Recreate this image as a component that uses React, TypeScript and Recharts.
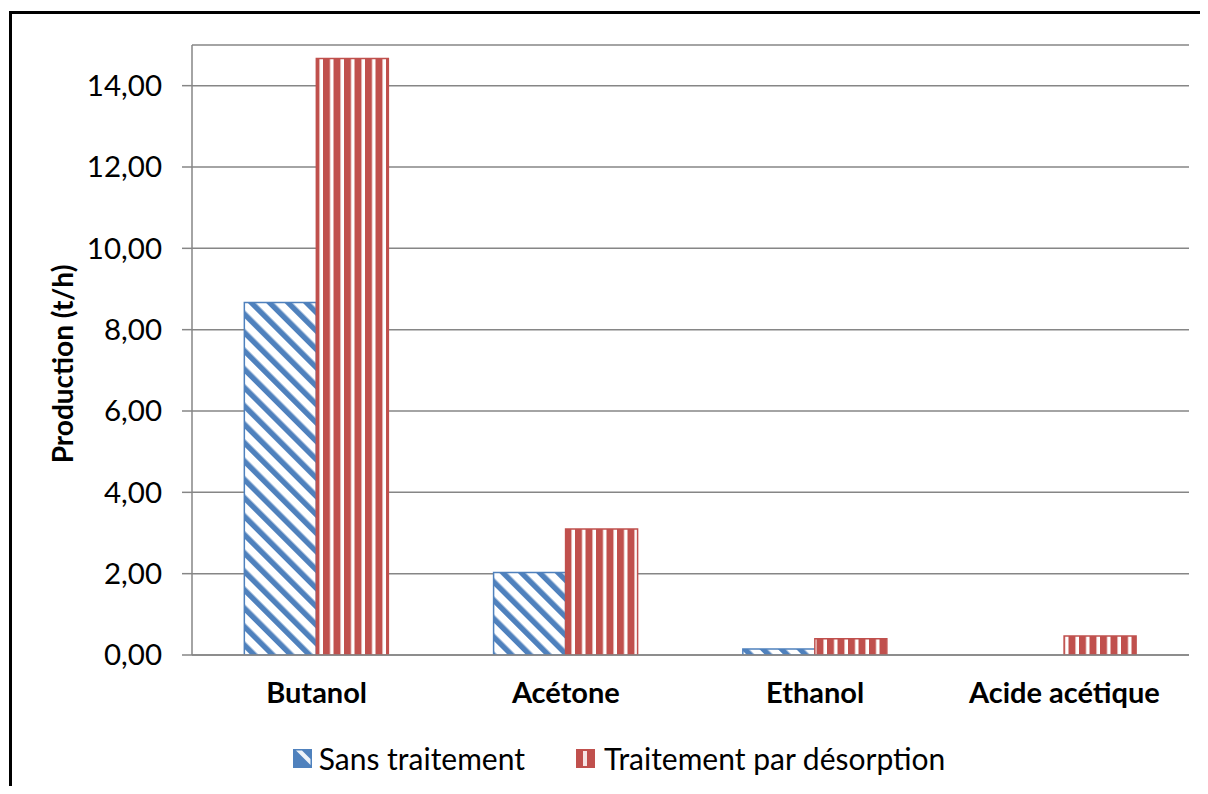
import {
  BarChart,
  Bar,
  XAxis,
  YAxis,
  CartesianGrid,
  Legend,
  Label,
} from 'recharts';

const categories = ['Butanol', 'Acétone', 'Ethanol', 'Acide acétique'];
const sansTraitement = [8.67, 2.03, 0.15, 0];
const desorption = [14.67, 3.1, 0.4, 0.47];
const yTicks = [0, 2, 4, 6, 8, 10, 12, 14];
const boundaryTicks = [0, 1, 2, 3, 4];

const seriesNames = ['Sans traitement', 'Traitement par désorption'];

const data = categories.map((name, i) => ({
  name,
  sans: sansTraitement[i],
  desorption: desorption[i],
}));

const BLUE = '#4F81BD';
const RED = '#C0504D';
const GRID = '#868686';
const FONT = 'Lato, "Open Sans", sans-serif';

const fmt = (v: number) => v.toFixed(2).replace('.', ',');

const LegendContent = () => (
  <div
    style={{
      display: 'flex',
      justifyContent: 'center',
      alignItems: 'center',
      height: 40,
      fontFamily: FONT,
      fontSize: 30,
      color: '#000',
      paddingLeft: 22,
    }}
  >
    <div style={{ display: 'flex', alignItems: 'center', marginRight: 51 }}>
      <svg width={19} height={19} style={{ marginRight: 7 }}>
        <rect x={0.75} y={0.75} width={17.5} height={17.5} fill={BLUE} stroke={BLUE} strokeWidth={1.5} />
        <polygon points="3,1.5 9,1.5 17.5,10 17.5,16" fill="#fff" opacity={0.9} />
      </svg>
      <span>{seriesNames[0]}</span>
    </div>
    <div style={{ display: 'flex', alignItems: 'center' }}>
      <svg width={19} height={19} style={{ marginRight: 9 }}>
        <rect x={0.75} y={0.75} width={17.5} height={17.5} fill={RED} stroke={RED} strokeWidth={1.5} />
        <rect x={7} y={2} width={4} height={15} fill="#fff" opacity={0.85} />
      </svg>
      <span>{seriesNames[1]}</span>
    </div>
  </div>
);

const YLabel = ({ viewBox }: any) => {
  const cx = 54;
  const cy = viewBox.y + viewBox.height / 2 + 14;
  return (
    <text
      x={cx}
      y={cy}
      transform={`rotate(-90, ${cx}, ${cy})`}
      textAnchor="middle"
      dominantBaseline="central"
      fontFamily={FONT}
      fontWeight="bold"
      fontSize={28}
      fill="#000"
    >
      Production (t/h)
    </text>
  );
};

export default function App() {
  return (
    <div
      style={{
        position: 'relative',
        width: 1200,
        height: 778,
        fontFamily: FONT,
      }}
    >
      {/* chart frame: only the left and top edges fall inside the picture */}
      <div style={{ position: 'absolute', left: 1, top: 3, width: 2.5, height: 775, background: '#000' }} />
      <div style={{ position: 'absolute', left: 1, top: 3, width: 1199, height: 2.5, background: '#000' }} />
      <BarChart
        width={1200}
        height={778}
        data={data}
        margin={{ top: 37, right: 19, left: 0, bottom: 31 }}
        barCategoryGap="21%"
        barGap={0}
        style={{ outline: 'none' }}
      >
        <defs>
          <pattern
            id="blueDiag"
            width={13}
            height={13}
            patternUnits="userSpaceOnUse"
            patternTransform="rotate(-45)"
          >
            <rect width={13} height={13} fill="#fff" />
            <rect width={5.5} height={13} fill={BLUE} />
          </pattern>
          <pattern id="redVert" width={10.5} height={10} patternUnits="userSpaceOnUse">
            <rect width={10.5} height={10} fill="#fff" />
            <rect width={7} height={10} fill={RED} />
          </pattern>
        </defs>
        <CartesianGrid vertical={false} stroke={GRID} strokeWidth={1.5} />
        <XAxis
          xAxisId="bounds"
          type="number"
          domain={[0, 4]}
          ticks={boundaryTicks}
          allowDataOverflow
          height={0}
          tick={false}
          tickSize={10}
          tickLine={{ stroke: GRID, strokeWidth: 1.5 }}
          axisLine={false}
        />
        <XAxis
          dataKey="name"
          height={60}
          tickLine={false}
          tickSize={0}
          tickMargin={27}
          axisLine={{ stroke: GRID, strokeWidth: 1.5 }}
          tick={{ fill: '#000', fontFamily: FONT, fontWeight: 'bold', fontSize: 29 }}
          interval={0}
        />
        <YAxis
          width={184}
          domain={[0, 15]}
          ticks={yTicks}
          allowDataOverflow
          tickFormatter={fmt}
          tickSize={10}
          tickMargin={20}
          tickLine={{ stroke: GRID, strokeWidth: 1.5 }}
          axisLine={{ stroke: GRID, strokeWidth: 1.5 }}
          tick={{ fill: '#000', fontFamily: FONT, fontSize: 29.5 }}
        >
          <Label content={<YLabel />} />
        </YAxis>
        <Legend
          verticalAlign="bottom"
          height={40}
          content={<LegendContent />}
          wrapperStyle={{ bottom: 8, left: 0, width: 1200 }}
        />
        <Bar
          dataKey="sans"
          name={seriesNames[0]}
          fill="url(#blueDiag)"
          stroke={BLUE}
          strokeWidth={1.5}
          isAnimationActive={false}
        />
        <Bar
          dataKey="desorption"
          name={seriesNames[1]}
          fill="url(#redVert)"
          stroke={RED}
          strokeWidth={1.5}
          isAnimationActive={false}
        />
      </BarChart>
    </div>
  );
}
